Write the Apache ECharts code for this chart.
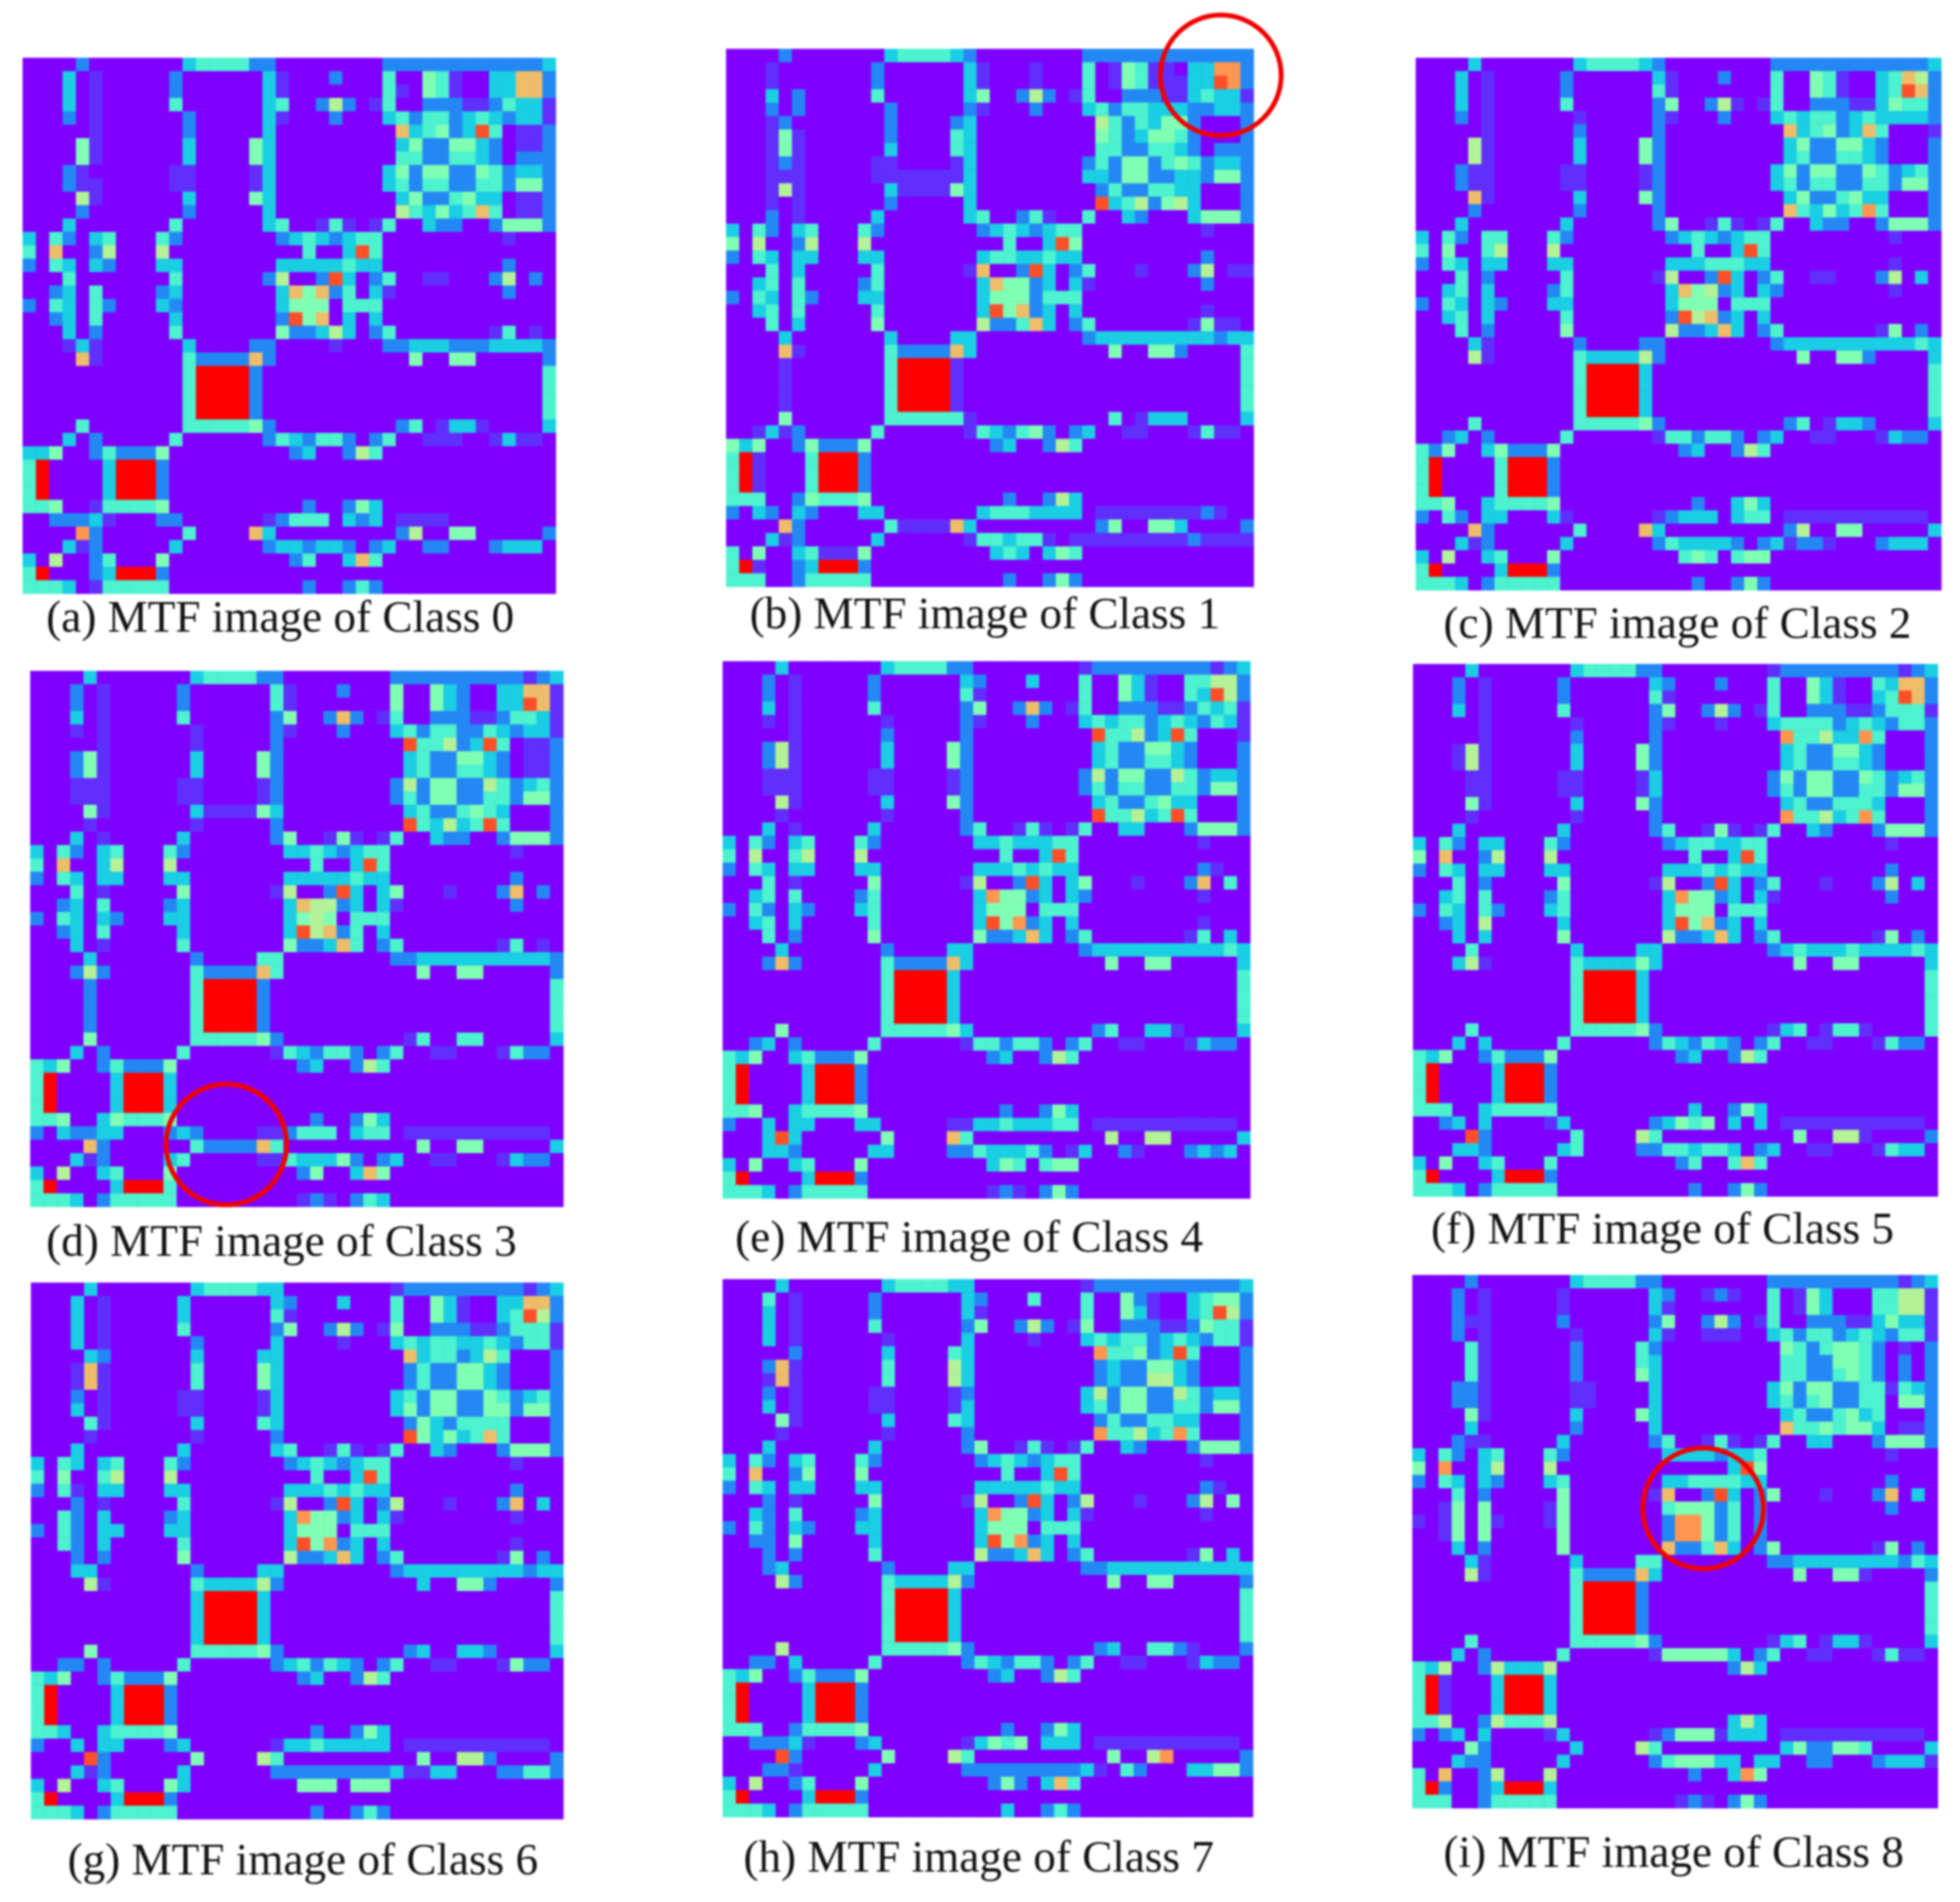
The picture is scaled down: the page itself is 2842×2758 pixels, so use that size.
<!DOCTYPE html>
<html>
<head>
<meta charset="utf-8">
<title>MTF images</title>
<script src="https://cdn.jsdelivr.net/npm/echarts@6/dist/echarts.min.js"></script>
<style>
  html, body { margin: 0; background: #fff; }
  #chart { width: 2842px; height: 2758px; filter: blur(1.4px); }
</style>
</head>
<body>
<div id="chart"></div>
<script>
// cell levels, one char per cell: 0-9, a = 10 (top of the colormap)
const classA = [
'0000200000 0034444220 0000000222 2222222223','0003010000 0200000031 0002000400 5410033772','0003010000 0200000031 0000000410 5410033772','0003010000 0400000034 0026201400 2221124331',
'0002010000 0020000031 0002000342 4423432331','0000010000 0020000030 0000000073 4523940112','0000510000 0030000530 0000000035 2255320112','0000510000 0030000530 0000000044 2244320222',
'0002100000 0110000130 0000000352 5522542332','0002110000 0110000130 0000000342 4422442552','0000610000 0030000530 0000000035 2245330112','0000200000 0020000030 0000000064 3534740112',
'0003000000 0400000034 0014101400 3220025552','3042034000 4200000002 3432344000 0000001000','4070026000 6000000000 0400394000 0000000000','2043032000 3300000003 3333433000 0000002000',
'0004000000 0400000026 0029302400 1100026020','0023040000 2300000003 7572403100 0000002000','2043042000 3200000003 5550444000 0000000000','0023040000 0300000002 9570303000 0000000000',
'0003020000 0400000005 2236302400 0000014010','0001310000 0030000220 0001000223 3322233332','0000710000 0042222720 0000000005 0055000002','0000000000 004aaaa200 0000000000 0000000004',
'0000000000 004aaaa200 0000000000 0000000004','0000000000 004aaaa200 0000000000 0000000004','0000000000 004aaaa200 0000000000 0000000004','0000400000 0044444520 0000000024 0133100003',
'0003020000 0400000024 3244202400 1110013110','3350024222 5000000000 2300264000 0000000000','4a00003aaa 2000000000 0000000000 0000000000','4a00003aaa 2000000000 0000000000 0000000000',
'4a00003aaa 2000000000 0000000000 0000000000','4450014444 5000000000 0200253000 0000000000','0022231000 2200000012 4440323011 1100000000','0000820000 0040000730 0000000026 0055000002',
'0003120000 0300000023 3233202300 2200023330','3060024000 5000000000 2400374000 0000000000','4a00023aaa 2000000000 0000000000 0000000000','4443014444 4000000000 0200242000 0000000000'
];
const classB = [
'0000200000 0034444320 0000000222 2222222222','0001000000 0200000031 0001000401 5411033882','0001000000 0200000031 0001000401 5411133982','0003020000 0400000035 0026201400 2221134331',
'0002020000 0020000021 0002000342 4433322332','0001200000 0020000230 0000000064 2435520002','0001510000 0020000430 0000000054 2355420002','0001510000 0030000430 0000000044 2244320222',
'0001210000 0110000130 0000000242 5524542332','0001110000 0111111130 0000000332 5522332552','0001610000 0031111530 0000000024 2244330002','0001010000 0020000030 0000000093 4625630002',
'0002010000 0300000034 0024100400 3200035552','3042034000 4200000002 3432344000 0000001000','5060026000 6000000000 0400395000 0000000000','2043033000 3300000003 4433433000 0000002000',
'0004030000 0400000017 0029302400 0100026011','0034040000 2400000003 7552303100 0000002000','2043042000 3300000003 5552444000 0000000000','0034040000 0400000003 9572303000 0000001000',
'0004030000 0500000006 2247302400 0000015110','0000300000 0030000330 0000000233 3333333233','0000710000 0042222730 0000000005 0055200004','0000100000 004aaaa100 0000000000 0000000004',
'0000100000 004aaaa100 0000000000 0000000004','0000100000 004aaaa100 0000000000 0000000004','0000100000 004aaaa100 0000000000 0000000004','0000500000 0044444410 0000000004 0133300003',
'0013120000 0400000014 3245202300 1100014110','5350025222 5000000000 2300264000 0000000000','4a10004aaa 2000000000 0000000000 0000000000','4a10004aaa 2000000000 0000000000 0000000000',
'4a10004aaa 2000000000 0000000000 0000000000','4440025444 5000000000 0200263000 0000000000','2032032000 3300000003 4443333011 1111112100','0000720000 0041111730 0000000025 0055300002',
'0003120000 0300000014 4344101111 1111121111','4050034111 5000000000 3430354000 0000000000','4a10023aaa 2000000000 0000000000 0000000000','4440024444 4000000000 0200252000 0000000000'
];
const classC = [
'0000300000 0034444320 0000000222 2222222223','0003010000 0200000031 0002000400 5410034762','0003010000 0200000041 0000000400 5410034972','0003010000 0400000025 0026101400 2221135442',
'0002010000 0010000021 0002000343 4423433332','0000010000 0020000020 0000000073 4523740001','0000610000 0030000520 0000000035 2255320002','0000610000 0030000520 0000000034 2244320002',
'0002110000 0110000120 0000000352 5522542342','0002110000 0110000120 0000000342 4422442552','0000710000 0030000520 0000000035 2245330002','0000200000 0020000020 0000000074 3534840002',
'0003000000 0300000025 0014101400 3220025552','3042044000 4200000002 3432344000 0000001000','4050046000 6000000000 0400394000 0000000000','2043033000 3300000003 3344433000 0000001000',
'0004020000 0400000016 0029302400 1100026030','0034030000 2400000003 7562303200 0000001000','2043032000 3300000003 5550444000 0000000000','0034030000 0400000002 9672303000 0000000000',
'0004020000 0500000006 2237302400 0000015020','0000310000 0020000220 0000000233 3333333343','0000610000 0043333620 0000000005 0055200003','0000000000 004aaaa300 0000000000 0000000004',
'0000000000 004aaaa300 0000000000 0000000004','0000000000 004aaaa300 0000000000 0000000004','0000000000 004aaaa300 0000000000 0000000004','0000400000 0044444520 0000000024 0133200003',
'0023020000 0400000014 4244202300 1100013220','4250035222 5000000000 2300264000 0000000000','4a00004aaa 2000000000 0000000000 0000000000','4a00004aaa 2000000000 0000000000 0000000000',
'4a00004aaa 2000000000 0000000000 0000000000','4450034444 5000000000 0200353000 0000000000','2042033000 3100000012 3330344011 1111111110','0000720000 0040000730 0000000026 0055000003',
'0003120000 0300000024 3333202312 2100023330','3060034000 5000000000 4540455000 0000000000','4a00003aaa 2000000000 0000000000 0000000000','4443024444 4000000000 0200252000 0000000000'
];
const classD = [
'0000300000 0034444220 0000000222 2222222123','0002010000 0200000041 0002000500 5320033771','0002010000 0200000041 0000000500 5320033971','0003010000 0400000025 0027201400 2221124431',
'0001010000 0010000021 0002000342 4422432331','0000010000 0010000020 0000000094 4623940112','0002510000 0030000520 0000000034 2255320112','0002510000 0030000520 0000000034 2244320112',
'0001110000 0110000120 0000000262 5522642342','0001110000 0110000120 0000000242 5522442552','0000510000 0031111530 0000000034 2245430002','0000100000 0010000020 0000000094 3634940002',
'0003010000 0300000025 0015101400 3220025552','3042034000 4200000003 3432344000 0000001000','4070036000 6000000000 0400394000 0000000000','2043033000 3300000003 3333433000 0000002000',
'0004010000 0500000016 0029303500 0100027020','0023040000 2300000003 7662303100 0000002000','2043032000 3300000003 5650444000 0000000000','0023040000 0300000003 9672403000 0000000000',
'0003010000 0400000005 2237402400 0000014010','0000300000 0020000440 0000000223 3333333332','0002620000 0042222740 0000000005 0055000002','0000200000 004aaaa200 0000000000 0000000004',
'0000200000 004aaaa200 0000000000 0000000004','0000200000 004aaaa200 0000000000 0000000004','0000200000 004aaaa200 0000000000 0000000004','0000500000 0044444520 0000000014 0044000003',
'0003020000 0400000014 3244202400 1100014220','4350024222 5000000000 2300264000 0000000000','4a00003aaa 3000000000 0000000000 0000000000','4a00003aaa 3000000000 0000000000 0000000000',
'4a00003aaa 3000000000 0000000000 0000000000','4450035444 5000000000 0200253000 0000000000','2032233000 2320000112 4440344011 1111111110','0000720000 0042222740 0000000005 0055000003',
'0003120000 3400000114 3335202300 1100013220','3060034000 5000000000 2500375000 0000000000','4a00003aaa 4000000000 0000000000 0000000000','4443024444 4000000000 1210243000 0000000000'
];
const classE = [
'0000300000 0034444220 0000000122 2222222123','0002010000 0200000032 0003000400 5310044662','0002010000 0200000041 0000000400 5310043962','0003010000 0400000025 0027201400 2221124341',
'0001010000 0010000021 0002000343 4423432431','0000010000 0020000020 0000000094 4623940001','0002610000 0030000520 0000000034 2255320002','0002610000 0030000520 0000000034 2244320002',
'0001110000 0110000120 0000000262 5522642332','0001110000 0110000120 0000000242 4422442552','0000610000 0030000520 0000000034 2245330002','0000100000 0010000020 0000000094 4634940002',
'0003010000 0300000024 0014101400 3300025552','3042034000 4200000003 3433344000 0000001000','4060046000 6000000000 0400394000 0000000000','2043033000 3300000003 3343433000 0000002100',
'0004010000 0500000016 0029303500 0100027040','0034040000 2400000003 8552303200 0000001000','2042032000 3400000003 5550444000 0000000000','0034030000 0400000003 9582303000 0000001000',
'0004020000 0500000005 2237302400 0000014030','0000300000 0020000330 0000000233 3333333343','0002720000 0042222730 0000000005 0055000003','0000000000 004aaaa300 0000000000 0000000004',
'0000000000 004aaaa300 0000000000 0000000004','0000000000 004aaaa300 0000000000 0000000004','0000000000 004aaaa300 0000000000 0000000004','0000500000 0044444530 0000000024 0033100003',
'0023020000 0400000014 4244202400 1100013220','4350034222 5000000000 2300264000 0000000000','4a00003aaa 2000000000 0000000000 0000000000','4a00003aaa 2000000000 0000000000 0000000000',
'4a00003aaa 2000000000 0000000000 0000000000','4450034444 5000000000 0200253000 0000000000','2003033000 3300000113 3433344011 1111111110','0003930000 0050000740 0000000006 0066000003',
'0003320000 0330000224 3334201300 2100023230','3050034000 5000000000 3540455000 0000000000','4a00003aaa 2000000000 0000000000 0000000000','4443024444 4000000000 1210252000 0000000000'
];
const classF = [
'0000300000 0034444220 0000000122 2222222123','0002010000 0200000032 0002000400 5310043772','0002010000 0200000041 0000000400 5310034972','0003010000 0400000025 0026201400 2221124441',
'0000010000 0010000021 0001000344 4423432442','0000010000 0020000020 0000000084 4633840002','0001610000 0030000520 0000000034 2255320002','0001610000 0030000520 0000000034 2244320002',
'0000110000 0110000130 0000000252 5522542342','0000110000 0110000130 0000000242 5522442552','0000510000 0030000520 0000000034 2244430002','0000100000 0010000020 0000000084 4634840002',
'0003000000 0300000024 0015101400 3200025552','3042033000 4200000002 3443344000 0000001000','5070026000 6000000000 0400394000 0000000000','2043033000 3300000003 3343433000 0000002000',
'0004020000 0500000016 0029302400 0100026030','0034040000 2400000003 8552303100 0000002000','2043042000 3400000003 5550444000 0000000000','0023060000 0300000003 9572303000 0000000000',
'0003030000 0500000006 2237302400 0000015020','0000400000 0030000330 0000000234 3334333343','0003610000 0043333530 0000000005 0055000003','0000000000 004aaaa300 0000000000 0000000004',
'0000000000 004aaaa300 0000000000 0000000004','0000000000 004aaaa300 0000000000 0000000004','0000000000 004aaaa300 0000000000 0000000004','0000400000 0044444520 0000000134 0144100004',
'0003030000 0400000024 3243202400 1100014220','4350024222 5000000000 2300264000 0000000000','4a00003aaa 2000000000 0000000000 0000000000','4a00003aaa 2000000000 0000000000 0000000000',
'4a00003aaa 2000000000 0000000000 0000000000','4440034444 4000000000 0300253000 0000000000','0023030000 1300000023 5450303011 1111111110','0000920000 0040000640 0000000005 0066100002',
'0003320000 0340000224 4344302300 1100014330','3050034000 4000000000 2400474000 0000000000','4a00003aaa 2000000000 0000000000 0000000000','4443024444 4000000000 0200252000 0000000000'
];
const classG = [
'0000300000 0034444330 0000000122 2222222123','0003010000 0300000032 0003000400 5310033772','0003010000 0300000041 0000000400 5310034962','0003010000 0400000025 0026201500 2221124441',
'0003010000 0020000030 0001000343 4433432441','0000320000 0030000330 0000000073 4423640002','0001710000 0040000530 0000000024 2255320002','0001710000 0040000530 0000000024 2255320002',
'0002010000 0110000130 0000000342 5522542342','0003010000 0110000130 0000000352 5522552552','0000410000 0030000430 0000000025 3244440002','0000100000 0010000020 0000000095 3534740002',
'0003000000 0300000034 0014101400 3200025552','3043034000 4200000002 3432344000 0000001000','4050046000 6000000000 0400394000 0000000000','2041033000 3300000003 3343433000 0000002000',
'0002010000 0400000016 0029302600 0100027030','0042030000 2300000003 8552303100 0000001000','2042033000 3300000003 5550444000 0000000000','0042030000 0400000003 9582303000 0000001000',
'0002020000 0500000006 2237302400 0000015020','0003300000 0020000330 0000000233 3333333233','0000610000 0043333620 0000000003 0055200002','0000000000 003aaaa300 0000000000 0000000004',
'0000000000 003aaaa300 0000000000 0000000004','0000000000 003aaaa300 0000000000 0000000004','0000000000 003aaaa300 0000000000 0000000004','0000500000 0044444520 0000000023 0033200003',
'0022020000 0400000023 4243202400 1100015220','4350024222 5000000000 2300264000 0000000000','4a00003aaa 2000000000 0000000000 0000000000','4a00003aaa 2000000000 0000000000 0000000000',
'4a00003aaa 2000000000 0000000000 0000000000','4430034444 5000000000 0200253000 0000000000','2003033000 2300000013 3433333011 1111111110','0000920000 0050000640 0000000005 0066200002',
'0003120000 0300000022 2222222311 3300022442','3060034000 5300000000 5550555000 0000000000','4a00003aaa 2000000000 0000000000 0000000000','4443024444 4000000000 0200242000 0000000000'
];
const classH = [
'0000300000 0034444330 0000000122 2222222223','0004010000 0200000032 0004000400 5210034552','0003010000 0200000031 0000000400 5310034962','0003010000 0400000025 0026201500 2221125441',
'0003010000 0010000030 0001000343 4423432441','0000020000 0030000430 0000000084 4523940002','0002710000 0040000630 0000000023 2255320002','0001710000 0040000630 0000000023 2266320002',
'0002010000 0110000120 0000000362 5522642332','0003010000 0110000130 0000000342 5522442552','0000510000 0030000430 0000000024 2244330002','0000100000 0010000020 0000000084 4634840002',
'0003000000 0300000025 0014101400 3200025552','3042034000 4200000002 3432344000 0000001000','4070025000 5000000000 0400394000 0000000000','2043033000 3300000003 3333433000 0000002100',
'0002010000 0500000016 0029302600 0100026050','0032040000 2300000003 8552303100 0000001000','2042032000 3300000003 5550444000 0000000000','0022050000 0300000003 9582303000 0000000000',
'0002020000 0400000006 2237302400 0000015030','0002300000 0020000330 0000000223 3333333333','0000620000 0043333620 0000000005 0055000002','0000000000 004aaaa300 0000000000 0000000004',
'0000000000 004aaaa300 0000000000 0000000004','0000000000 004aaaa300 0000000000 0000000004','0000000000 004aaaa300 0000000000 0000000004','0000600000 0044444520 0000000023 0044210002',
'0022030000 0400000024 3244202400 1100013220','4350024222 5000000000 2300264000 0000000000','4a00003aaa 2000000000 0000000000 0000000000','4a00003aaa 2000000000 0000000000 0000000000',
'4a00003aaa 2000000000 0000000000 0000000000','4440024444 5000000000 0200253000 0000000000','0022231000 2300000013 5450333011 1111111110','0000920000 0050000640 0000000005 0068000002',
'0002210000 0300000022 2222222310 4200033552','3060024000 5000000000 2520374000 0000000000','4a00003aaa 2000000000 0000000000 0000000000','4443024444 4000000000 0300242000 0000000000'
];
const classI = [
'0000200000 0034444220 0000000222 2222222123','0002010000 0100000032 0012100401 5300044661','0002010000 0100000031 0000000401 5300044661','0002110000 0200000025 0026201400 2221135331',
'0002010000 0010000031 0011100342 4423432441','0000410000 0020000420 0000000054 2455420102','0000410000 0020000430 0000000044 2255420202','0000410000 0020000530 0000000044 2245420202',
'0002210000 0011000030 0000000352 5522441432','0002210000 0011000030 0000000342 4522440552','0000510000 0030000530 0000000034 2245340002','0000300000 0020000030 0000000074 4545530112',
'0002110000 0300000024 0014101400 3300025552','3042034000 4200000003 3332334000 0000001000','5080036000 6000000000 0000395000 0000000000','2043032000 3400000003 3444433000 0000002000',
'0004020000 0500000017 0029302500 0100027030','0015050000 1500000004 5552402000 0000002000','1015051000 1500000002 8852402000 0000000000','0015050000 0500000002 8852402000 0000000000',
'0003020000 0500000007 2247302500 0000015020','0000310000 0030000440 0000000223 3333333243','0000610000 0042222730 0000000005 0055100002','0000000000 004aaaa200 0000000000 0000000004',
'0000000000 004aaaa200 0000000000 0000000004','0000000000 004aaaa200 0000000000 0000000004','0000000000 004aaaa200 0000000000 0000000004','0000400000 0044444520 0000000134 0133100003',
'0003020000 0400000015 5555302400 1100014110','4360026333 6000000000 0000263000 0000000000','4a10003aaa 3000000000 0000000000 0000000000','4a10003aaa 3000000000 0000000000 0000000000',
'4a10003aaa 3000000000 0000000000 0000000000','4460026444 6000000000 0000363000 0000000000','2023030000 1300000012 5551333011 1111111110','0000520000 0030000640 0000000035 2255400003',
'0003220000 0300000024 5553303300 2200023331','4070026000 6000000000 0200385000 0000000000','4a20023aaa 3000000000 0000000000 0000000000','4440024444 4000000000 1210252000 0000000000'
];
const panelRows = [classA, classB, classC, classD, classE, classF, classG, classH, classI];

// what each level char means on the 0-10 colormap scale
const levelValues = [0, 0.6, 1.8, 3, 4, 5, 6, 7.3, 8, 9, 10];

const captions = [
  '(a) MTF image of Class 0', '(b) MTF image of Class 1', '(c) MTF image of Class 2',
  '(d) MTF image of Class 3', '(e) MTF image of Class 4', '(f) MTF image of Class 5',
  '(g) MTF image of Class 6', '(h) MTF image of Class 7', '(i) MTF image of Class 8'
];

// panel index, column, row of the cell each red ring sits on
const rings = [[1, 37, 1], [3, 14, 35], [8, 22, 17]];

// layout: left, top, width, height of each image, then caption left / top
const boxes = [
  [33, 84, 773, 777], [1053, 71, 765, 780], [2053, 84, 762, 772],
  [44, 973, 773, 777], [1048, 959, 765, 779], [2049, 963, 761, 772],
  [45, 1860, 772, 778], [1048, 1855, 769, 780], [2048, 1849, 762, 773]
];
const captionAt = [
  [62, 861], [1082, 856], [2088, 870],
  [62, 1766], [1061, 1760], [2070, 1748],
  [93, 2663], [1073, 2659], [2088, 2652]
];
const ringOffset = [[0, 9], [4, -3], [-7, 0]];

// matplotlib "rainbow" sampled at 0, 0.1 ... 1
const rainbow = ['#8000ff', '#4d4ffc', '#1a96f2', '#1acee3', '#4df2ce', '#80ffb4',
                 '#b3f296', '#e6ce74', '#ff964f', '#ff4f28', '#ff0000'];

const cells = Array.from({ length: 40 }, (_, i) => i);

const chart = echarts.init(document.getElementById('chart'));

const grid = [], xAxis = [], yAxis = [], series = [], title = [];

panelRows.forEach((rows, p) => {
  const [left, top, width, height] = boxes[p];
  // purple behind the cells so seams between them don't show white
  grid.push({ left, top, width, height, show: true, backgroundColor: rainbow[0], borderWidth: 0 });
  xAxis.push({ type: 'category', gridIndex: p, data: cells, show: false });
  yAxis.push({ type: 'category', gridIndex: p, data: cells, show: false, inverse: true });

  const data = [];
  rows.forEach((row, r) => {
    row.replace(/ /g, '').split('').forEach((ch, c) => {
      data.push([c, r, levelValues[parseInt(ch, 11)]]);
    });
  });
  series.push({
    type: 'heatmap',
    xAxisIndex: p,
    yAxisIndex: p,
    data,
    silent: true,
    emphasis: { disabled: true }
  });

  title.push({
    text: captions[p],
    left: captionAt[p][0],
    top: captionAt[p][1],
    textStyle: { fontFamily: 'Liberation Serif', fontSize: 65.5, fontWeight: 'normal', color: '#111' }
  });
});

rings.forEach(([p, col, row], i) => {
  series.push({
    type: 'scatter',
    xAxisIndex: p,
    yAxisIndex: p,
    clip: false,
    silent: true,
    z: 5,
    symbol: 'circle',
    symbolSize: 175,
    symbolOffset: ringOffset[i],
    itemStyle: { color: 'rgba(0,0,0,0)', borderColor: '#f00000', borderWidth: 7, opacity: 1 },
    data: [[col, row]]
  });
});

chart.setOption({
  animation: false,
  backgroundColor: '#fff',
  title,
  grid,
  xAxis,
  yAxis,
  visualMap: {
    show: false,
    type: 'continuous',
    min: 0,
    max: 10,
    seriesIndex: cells.slice(0, 9),
    inRange: { color: rainbow }
  },
  series
});
</script>
</body>
</html>
